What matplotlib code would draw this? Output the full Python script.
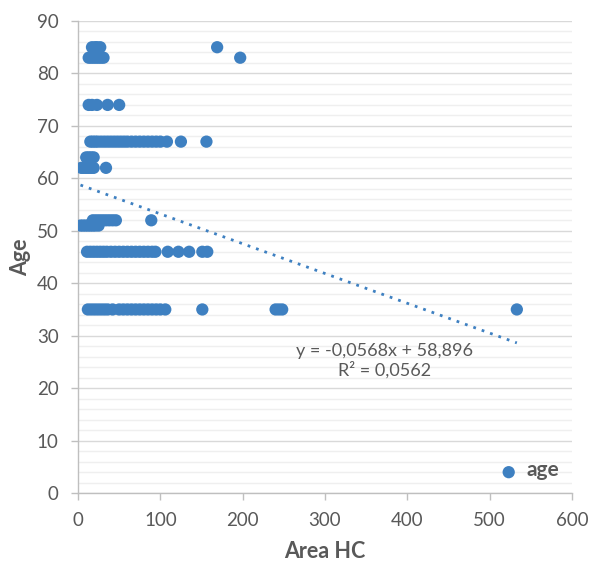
import matplotlib
matplotlib.use("Agg")
import matplotlib.pyplot as plt
from matplotlib.ticker import MultipleLocator
import numpy as np

# ---- data ----
area_85 = [17, 21, 23, 27, 169]
age_85 = [85] * len(area_85)
area_83 = [13, 16, 19, 22, 25, 28, 31, 197]
age_83 = [83] * len(area_83)
area_74 = [13, 17, 23, 36, 50]
age_74 = [74] * len(area_74)
area_67 = [15, 18, 21, 24, 28, 32, 36, 40, 44, 48, 52, 56, 60, 65, 70, 75, 80, 85,
           90, 95, 100, 108, 125, 156]
age_67 = [67] * len(area_67)
area_64 = [10, 13, 16, 19]
age_64 = [64] * len(area_64)
area_62 = [4, 7, 10, 13, 16, 19, 34]
age_62 = [62] * len(area_62)
area_52 = [18, 22, 26, 30, 34, 38, 42, 46, 89]
age_52 = [52] * len(area_52)
area_51 = [3, 6, 9, 12, 15, 18, 21, 25]
age_51 = [51] * len(area_51)
area_46 = [11, 15, 19, 23, 27, 31, 35, 40, 45, 50, 55, 60, 65, 70, 75, 80, 85, 90, 94,
           109, 122, 135, 151, 157]
age_46 = [46] * len(area_46)
area_35 = [12, 16, 20, 24, 28, 32, 36, 42, 50, 55, 60, 65, 70, 75, 80, 85, 90, 95, 100,
           106, 151, 240, 244, 248, 533]
age_35 = [35] * len(area_35)

area = np.array(area_85 + area_83 + area_74 + area_67 + area_64 + area_62 +
                area_52 + area_51 + area_46 + area_35, dtype=float)
age = np.array(age_85 + age_83 + age_74 + age_67 + age_64 + age_62 +
               age_52 + age_51 + age_46 + age_35, dtype=float)

trend_slope = -0.0568
trend_intercept = 58.896
trend_text = "y = -0,0568x + 58,896\nR² = 0,0562"

x_ticks = [0, 100, 200, 300, 400, 500, 600]
y_ticks = [0, 10, 20, 30, 40, 50, 60, 70, 80, 90]

# ---- drawing ----
plt.rcParams['font.family'] = ['Lato', 'DejaVu Sans']
grey = '#595959'
blue = '#3e80c1'

fig = plt.figure(figsize=(5.9, 5.63), dpi=100)
ax = fig.add_axes([0.1322, 0.1243, 0.8373, 0.8384])

ax.scatter(area, age, s=78, color=blue, edgecolors='none', zorder=3, label='age')

tx = np.array([area.min(), area.max()])
ax.plot(tx, trend_slope * tx + trend_intercept, linestyle=(0, (1, 2.2)),
        color=blue, linewidth=2.0, zorder=4)

ax.text(372, 25.2, trend_text, ha='center', va='center', color=grey,
        fontsize=13, linespacing=1.12)

ax.set_xlim(0, 600)
ax.set_ylim(0, 90)
ax.set_xticks(x_ticks)
ax.set_yticks(y_ticks)
ax.yaxis.set_minor_locator(MultipleLocator(2))

ax.grid(which='major', axis='y', color='#d9d9d9', linewidth=1.0, zorder=0)
ax.grid(which='minor', axis='y', color='#efefef', linewidth=1.0, zorder=0)
ax.set_axisbelow(True)

for s in ['top', 'right']:
    ax.spines[s].set_visible(False)
for s in ['left', 'bottom']:
    ax.spines[s].set_color('#bfbfbf')
    ax.spines[s].set_linewidth(1.0)

ax.tick_params(which='major', axis='both', colors='#bfbfbf', length=5,
               labelcolor=grey, labelsize=13.5, width=1)
ax.tick_params(which='minor', length=0)
ax.tick_params(axis='x', pad=9)
ax.tick_params(axis='y', pad=9)

ax.set_xlabel('Area HC', fontsize=15.5, fontweight='bold', color=grey, labelpad=8)
ax.set_ylabel('Age', fontsize=15.5, fontweight='bold', color=grey, labelpad=4)

leg = ax.legend(loc='lower right', bbox_to_anchor=(1.0, 0.0), frameon=False,
                handletextpad=0.25, borderaxespad=0.55, markerscale=1.0)
for t in leg.get_texts():
    t.set_color(grey)
    t.set_fontsize(15)
    t.set_fontweight('bold')

fig.savefig('out.png', dpi=100)
